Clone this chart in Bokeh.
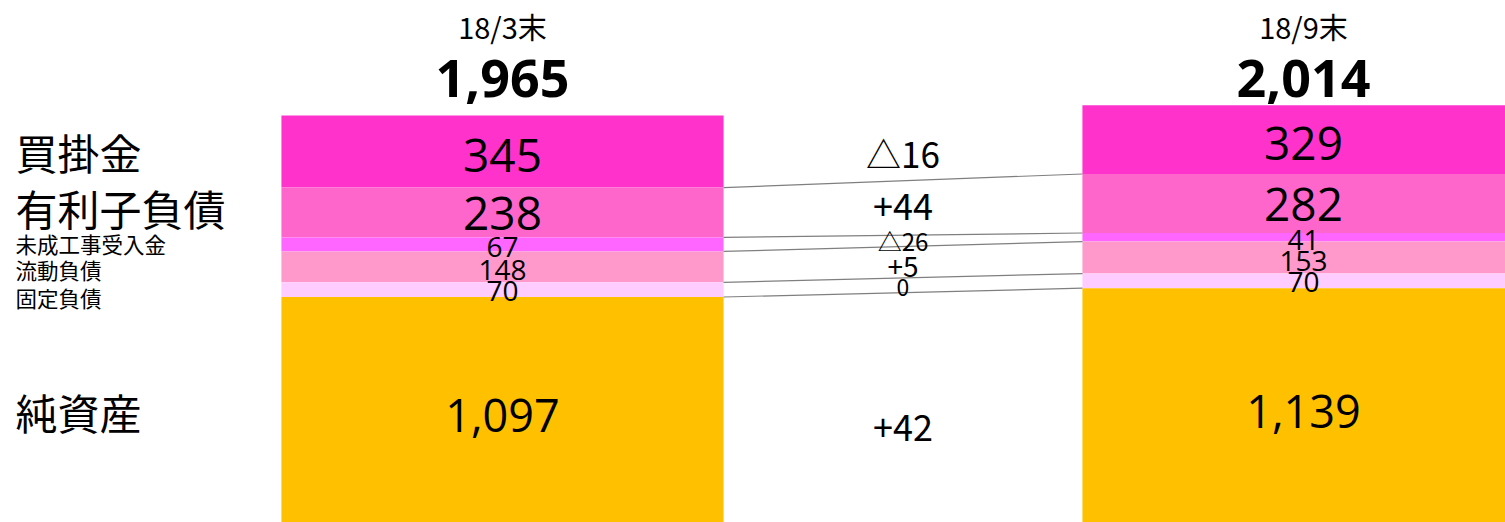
from bokeh.plotting import figure
from bokeh.models import Range1d, Label
from bokeh.core.properties import value
from bokeh.embed import file_html
from bokeh.resources import INLINE

# ---- data ----
items = ["買掛金", "有利子負債", "未成工事受入金", "流動負債", "固定負債", "純資産"]  # top to bottom
periods = ["18/3末", "18/9末"]
totals = ["1,965", "2,014"]
mar18 = [345, 238, 67, 148, 70, 1097]
sep18 = [329, 282, 41, 153, 70, 1139]
diff_labels = ["△16", "+44", "△26", "+5", "0", "+42"]

# ---- styles ----
colors = ["#FF33CC", "#FF66CC", "#FF66FF", "#FF99CC", "#FFCCFF", "#FFC000"]
item_font_sizes = ["42px", "42px", "21.5px", "21.5px", "21.5px", "42px"]
item_offsets = [0, -5, -1, 3, 8, 0]
val_font_sizes = ["46px", "46px", "28px", "28px", "28px", "45px"]
val_offsets = [4, 1, 3, 3, 1, 4]
diff_font_sizes = ["35px", "36px", "24px", "28px", "23px", "36px"]
diff_offsets = [7, -1, 0, 4, 2, 18]

JP = value("Noto Sans CJK JP")
NUM = value("Open Sans")

W, H = 1505, 522
px_per_unit = 0.2092
ystart = 4 / px_per_unit
yend = ystart + H / px_per_unit
xstart, xend = -502 / 801, 1003 / 801
bar_w = 0.552

p = figure(width=W, height=H, output_backend="svg", toolbar_location=None,
           x_range=Range1d(xstart, xend), y_range=Range1d(ystart, yend),
           min_border=0)
p.axis.visible = False
p.grid.visible = False
p.outline_line_color = None
p.background_fill_color = "white"


def stack(vals):
    # vals top-to-bottom; compute bottoms/tops from the base
    rev = list(reversed(vals))
    bottoms, tops = [], []
    acc = 0
    for v in rev:
        bottoms.append(acc)
        acc += v
        tops.append(acc)
    return list(reversed(bottoms)), list(reversed(tops))


series = [mar18, sep18]
stacks = [stack(s) for s in series]

for i, s in enumerate(series):
    b, t = stacks[i]
    p.vbar(x=[i] * len(s), width=bar_w, bottom=b, top=t,
           fill_color=colors, line_color=None)
    mids = [(bb + tt) / 2 for bb, tt in zip(b, t)]
    for j in range(len(s)):
        p.text(x=[i], y=[mids[j]], text=[f"{s[j]:,}"], text_align="center",
               text_baseline="middle", text_font=NUM,
               text_font_size=val_font_sizes[j], y_offset=val_offsets[j],
               text_color="black")

# connector lines between matching boundaries of the two bars
lb, lt = stacks[0]
rb, rt = stacks[1]
for j in range(len(items) - 1):
    p.line(x=[0 + bar_w / 2, 1 - bar_w / 2], y=[lb[j], rb[j]],
           line_color="#7F7F7F", line_width=1.2)

# difference labels
for j in range(len(items)):
    mid = ((lb[j] + lt[j]) / 2 + (rb[j] + rt[j]) / 2) / 2
    p.text(x=[0.5], y=[mid], text=[diff_labels[j]], text_align="center",
           text_baseline="middle", text_font=JP,
           text_font_size=diff_font_sizes[j], y_offset=diff_offsets[j],
           text_color="black")

# item labels on the left
for j in range(len(items)):
    mid = (lb[j] + lt[j]) / 2
    p.text(x=[xstart], y=[mid], text=[items[j]], text_align="left",
           text_baseline="middle", text_font=JP, x_offset=15,
           text_font_size=item_font_sizes[j], y_offset=item_offsets[j],
           text_color="black")

# headers
for i in range(2):
    p.add_layout(Label(x=i, y=497, y_units="screen", text=periods[i],
                       text_align="center", text_baseline="middle",
                       text_font="Noto Sans CJK JP", text_font_size="29px",
                       text_color="black"))
    p.add_layout(Label(x=i, y=444, y_units="screen", text=totals[i],
                       text_align="center", text_baseline="middle",
                       text_font="Open Sans", text_font_style="bold",
                       text_font_size="52px", text_color="black"))

open("out.html", "w").write(file_html(p, INLINE))
